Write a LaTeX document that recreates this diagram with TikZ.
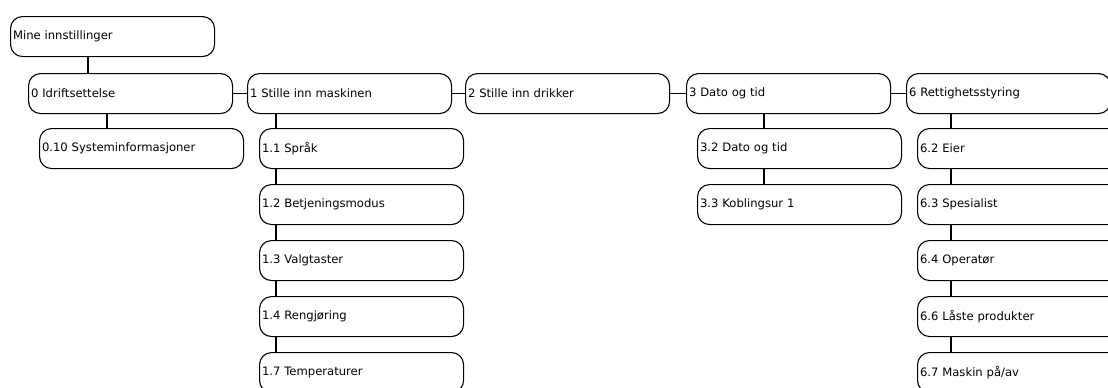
\documentclass[tikz,border=0pt]{standalone}
\usepackage{fontspec}
\setmainfont{DejaVu Sans}

\begin{document}
\begin{tikzpicture}[x=1pt,y=-1pt]
  \tikzset{menu box/.style={draw,rounded corners=12pt,line width=1.1pt,anchor=north west,
      minimum width=204pt,minimum height=40pt,text width=199pt,inner xsep=2.5pt,align=left,
      font=\fontsize{11.6}{13}\selectfont}}
  \useasboundingbox (0,0) rectangle (1108,388);
  \clip (0,0) rectangle (1108,388);

  \node [menu box] (root) at (10,16) {Mine innstillinger};

  \node [menu box] (m0) at (28,73) {0 Idriftsettelse};
  \node [menu box] (m1) at (247,73) {1 Stille inn maskinen};
  \node [menu box] (m2) at (465,73) {2 Stille inn drikker};
  \node [menu box] (m3) at (686,73) {3 Dato og tid};
  \node [menu box] (m6) at (906,73) {6 Rettighetsstyring};

  \node [menu box] (m010) at (39,128) {0.10 Systeminformasjoner};

  \node [menu box] (m11) at (259,128) {1.1 Språk};
  \node [menu box] (m12) at (259,184) {1.2 Betjeningsmodus};
  \node [menu box] (m13) at (259,240) {1.3 Valgtaster};
  \node [menu box] (m14) at (259,296) {1.4 Rengjøring};
  \node [menu box] (m17) at (259,352) {1.7 Temperaturer};

  \node [menu box] (m32) at (697,128) {3.2 Dato og tid};
  \node [menu box] (m33) at (697,184) {3.3 Koblingsur 1};

  \node [menu box] (m62) at (917,128) {6.2 Eier};
  \node [menu box] (m63) at (917,184) {6.3 Spesialist};
  \node [menu box] (m64) at (917,240) {6.4 Operatør};
  \node [menu box] (m66) at (917,296) {6.6 Låste produkter};
  \node [menu box] (m67) at (917,352) {6.7 Maskin på/av};

  \coordinate (cr) at ([xshift=78pt]root.south west);
  \coordinate (c0) at ([xshift=79pt]m0.south west);
  \coordinate (c1) at ([xshift=29pt]m1.south west);
  \coordinate (c3) at ([xshift=78pt]m3.south west);
  \coordinate (c6) at ([xshift=45pt]m6.south west);

  \foreach \a/\b in {m0/m1,m1/m2,m2/m3,m3/m6}
    \draw [line width=1.1pt] (\a.east) -- (\b.west);

  \foreach \c/\a/\b in {cr/root/m0,c0/m0/m010,
      c1/m1/m11,c1/m11/m12,c1/m12/m13,c1/m13/m14,c1/m14/m17,
      c3/m3/m32,c3/m32/m33,
      c6/m6/m62,c6/m62/m63,c6/m63/m64,c6/m64/m66,c6/m66/m67}
    \draw [line width=1.1pt] (\c |- \a.south) -- (\c |- \b.north);
\end{tikzpicture}
\end{document}
